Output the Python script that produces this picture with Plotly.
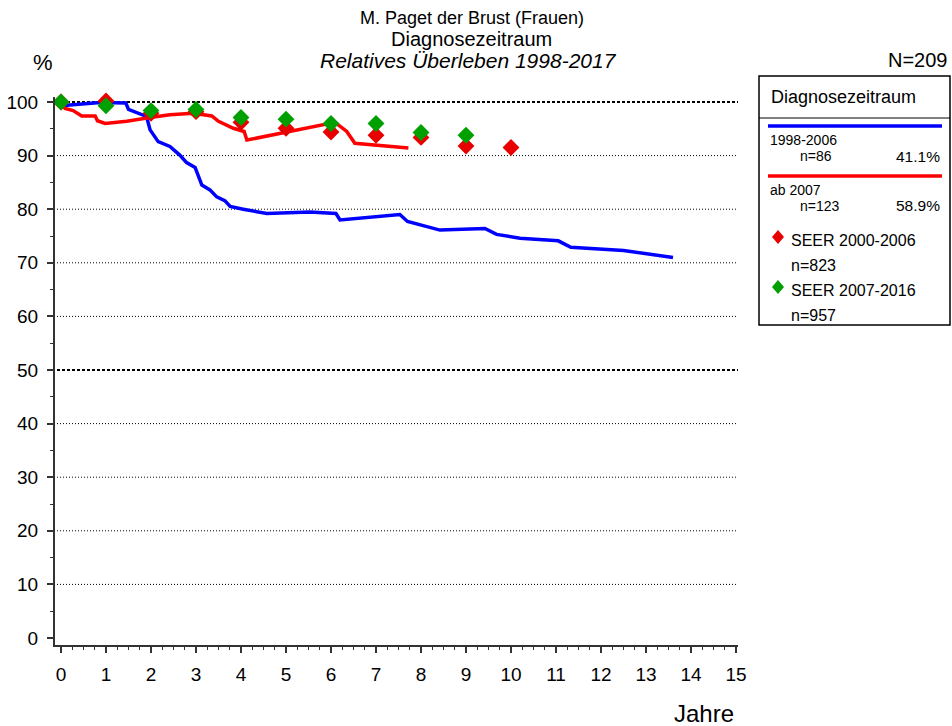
import plotly.graph_objects as go

# ---------------- data ----------------
blue_t = [0, 0.87, 1.44, 1.5, 1.9, 1.98, 2.16, 2.42, 2.64, 2.79, 2.98, 3.13, 3.31, 3.46,
          3.64, 3.76, 4.05, 4.57, 5.53, 6.11, 6.2, 7.53, 7.7, 8.05, 8.42, 9.42, 9.68,
          10.2, 11.05, 11.33, 12.5, 13.6]
blue_s = [99.3, 99.9, 99.8, 98.6, 97.3, 94.8, 92.6, 91.7, 90.1, 88.7, 87.8, 84.5, 83.6, 82.3,
          81.6, 80.5, 80.0, 79.2, 79.5, 79.2, 78.0, 79.0, 77.7, 76.9, 76.1, 76.4, 75.3,
          74.6, 74.1, 72.9, 72.3, 71.0]

red_t = [0, 0.09, 0.27, 0.46, 0.76, 0.81, 0.98, 1.46, 1.98, 2.42, 2.94, 3.35, 3.5, 3.83,
         4.07, 4.13, 6.09, 6.35, 6.53, 7.72]
red_s = [99.8, 98.8, 98.4, 97.4, 97.4, 96.5, 96.0, 96.4, 97.1, 97.6, 97.9, 97.4, 96.4, 95.1,
         94.5, 92.9, 96.2, 94.5, 92.3, 91.4]

seer1_years = [0, 1, 2, 3, 4, 5, 6, 7, 8, 9, 10]
seer1_vals = [100.0, 100.2, 97.9, 98.2, 96.2, 95.1, 94.4, 93.8, 93.4, 91.8, 91.5]
seer2_years = [0, 1, 2, 3, 4, 5, 6, 7, 8, 9]
seer2_vals = [100.0, 99.3, 98.4, 98.6, 97.1, 96.8, 96.0, 96.0, 94.3, 93.8]

x_ticks = list(range(0, 16))
y_ticks = list(range(0, 101, 10))
grid_vals = [10, 20, 30, 40, 50, 60, 70, 80, 90, 100]
bold_grid = [50, 100]

title1 = "M. Paget der Brust (Frauen)"
title2 = "Diagnosezeitraum"
title3 = "Relatives Überleben 1998-2017"
legend_title = "Diagnosezeitraum"
groups = [("1998-2006", "n=86", "41.1%"), ("ab 2007", "n=123", "58.9%")]
seer_labels = [("SEER 2000-2006", "n=823"), ("SEER 2007-2016", "n=957")]

# ---------------- layout helpers ----------------
W, H = 952, 726
L, R, T, B = 55, 738, 97, 645
def px(x):
    return (x - L) / (R - L)
def py(y):
    return (B - y) / (B - T)

X0PX, XSCALE = 61, 45.0
Y0PX, YSCALE = 638, 5.36
xrange_ = [(L - X0PX) / XSCALE, (R - X0PX) / XSCALE]
yrange_ = [(Y0PX - B) / YSCALE, (Y0PX - T) / YSCALE]

FONT = "Liberation Sans, Arial, sans-serif"
BLUE = "#0000ff"
RED = "#ff0000"
MRED = "#e80000"
GREEN = "#00a000"

fig = go.Figure()

fig.add_trace(go.Scatter(x=blue_t, y=blue_s, mode="lines",
                         line=dict(color=BLUE, width=3.5), cliponaxis=False, showlegend=False))
fig.add_trace(go.Scatter(x=red_t, y=red_s, mode="lines",
                         line=dict(color=RED, width=3.5), cliponaxis=False, showlegend=False))
fig.add_trace(go.Scatter(x=seer1_years, y=seer1_vals, mode="markers",
                         marker=dict(symbol="diamond", size=13, color=MRED, line=dict(width=0)),
                         cliponaxis=False, showlegend=False))
fig.add_trace(go.Scatter(x=seer2_years, y=seer2_vals, mode="markers",
                         marker=dict(symbol="diamond", size=13, color=GREEN, line=dict(width=0)),
                         cliponaxis=False, showlegend=False))

shapes = []
for g in grid_vals:
    bold = g in bold_grid
    shapes.append(dict(type="line", xref="paper", yref="y", x0=px(57), x1=1, y0=g, y1=g,
                       line=dict(color="black", width=2 if bold else 1,
                                 dash="3px,2px" if bold else "1px,2px"),
                       layer="below"))

annotations = []
def txt(x, y, s, size, anchor="center", italic=False, color="black"):
    annotations.append(dict(x=px(x), y=py(y), xref="paper", yref="paper", text=s,
                            showarrow=False, xanchor=anchor, yanchor="middle",
                            font=dict(family=FONT, size=size, color=color,
                                      style="italic" if italic else "normal")))

# titles
txt(472, 18, title1, 18)
txt(471, 39, title2, 20)
txt(468, 60, title3, 21, italic=True)
txt(950, 60, "N=209", 20, anchor="right")
txt(43, 62, "%", 22)
txt(704, 713, "Jahre", 24)

# legend box
shapes.append(dict(type="rect", xref="paper", yref="paper", x0=px(759), x1=px(950),
                   y0=py(76), y1=py(325), line=dict(color="black", width=1.5)))
shapes.append(dict(type="line", xref="paper", yref="paper", x0=px(759), x1=px(950),
                   y0=py(118), y1=py(118), line=dict(color="black", width=1)))
txt(769, 97, legend_title, 18, anchor="left")

line_cols = [BLUE, RED]
line_y = [126, 176]
for (name, n, pct), col, ly in zip(groups, line_cols, line_y):
    shapes.append(dict(type="line", xref="paper", yref="paper", x0=px(768), x1=px(942),
                       y0=py(ly), y1=py(ly), line=dict(color=col, width=3.5)))
    txt(768, ly + 14, name, 14, anchor="left")
    txt(798, ly + 30, n, 14, anchor="left")
    txt(942, ly + 30, pct, 15.5, anchor="right")

mark_cols = [MRED, GREEN]
mark_y = [237, 287]
for (name, n), col, my in zip(seer_labels, mark_cols, mark_y):
    cx, hw, hh = 778, 6, 7
    path = (f"M {px(cx)} {py(my - hh)} L {px(cx + hw)} {py(my)} "
            f"L {px(cx)} {py(my + hh)} L {px(cx - hw)} {py(my)} Z")
    shapes.append(dict(type="path", xref="paper", yref="paper", path=path,
                       fillcolor=col, line=dict(width=0)))
    txt(789, my + 3, name, 16, anchor="left")
    txt(789, my + 28, n, 16, anchor="left")

fig.update_layout(
    width=W, height=H,
    margin=dict(l=L, r=W - R, t=T, b=H - B, pad=0, autoexpand=False),
    paper_bgcolor="white", plot_bgcolor="white",
    font=dict(family=FONT, size=19, color="black"),
    shapes=shapes, annotations=annotations,
    xaxis=dict(range=xrange_, tickvals=x_ticks, ticktext=[str(v) for v in x_ticks],
               showgrid=False, zeroline=False, showline=True, linecolor="#333",
               linewidth=2, ticks="outside", ticklen=6, tickwidth=1.5, tickcolor="#333",
               ticklabelstandoff=5, automargin=False,
               minor=dict(dtick=0.25, tick0=0, ticks="outside", ticklen=3,
                          tickwidth=1, tickcolor="#333", showgrid=False),
               tickfont=dict(family=FONT, size=19, color="black"), fixedrange=True),
    yaxis=dict(range=yrange_, tickvals=y_ticks, ticktext=[str(v) for v in y_ticks],
               showgrid=False, zeroline=False, showline=True, linecolor="#333",
               linewidth=2, ticks="outside", ticklen=6, tickwidth=1.5, tickcolor="#333",
               ticklabelstandoff=5, automargin=False,
               minor=dict(dtick=5, tick0=0, ticks="outside", ticklen=3,
                          tickwidth=1, tickcolor="#333", showgrid=False),
               tickfont=dict(family=FONT, size=19, color="black"), fixedrange=True),
)

fig.write_html("out.html", config={"displayModeBar": False},
               post_script="document.body.style.margin='0';document.body.style.overflow='hidden';")
